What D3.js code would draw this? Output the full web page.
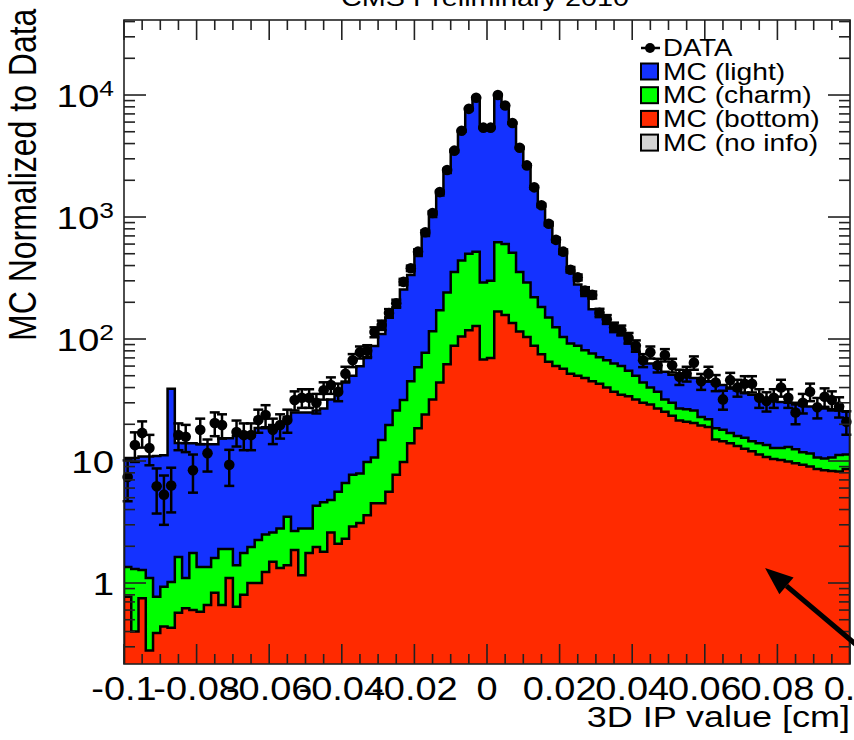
<!DOCTYPE html>
<html><head><meta charset="utf-8">
<script src="https://cdn.jsdelivr.net/npm/d3@7"></script>
<style>body{margin:0;background:#fff} svg{display:block} text{font-family:"Liberation Sans",Arial,Helvetica,sans-serif;fill:#000}</style>
</head><body><svg id="c" width="854" height="740"></svg>
<script>
// ---- data ----
const xMin=-0.1, xMax=0.1, nBins=100;
const xTickValues=[-0.1,-0.08,-0.06,-0.04,-0.02,0,0.02,0.04,0.06,0.08,0.1];
const xTickLabels=["-0.1","-0.08","-0.06","-0.04","-0.02","0","0.02","0.04","0.06","0.08","0.1"];
const yTickValues=[1,10,100,1000,10000];
const yTickBase=["1","10","10","10","10"];
const yTickExp=["","","2","3","4"];
const mcBottom=[0.77,0.40,0.75,0.28,0.39,0.44,0.43,0.57,0.62,0.60,
 0.58,0.66,0.83,0.66,1.1,0.64,0.80,1.0,1.0,1.23,
 1.49,1.33,1.4,1.86,1.16,1.76,1.97,1.8,2.6,2.1,
 2.3,2.9,3.1,3.6,4.5,4.5,5.6,7.7,9.8,14,
 18.6,24,32,44,62,88,105,118,128,68,
 70,168,157,135,115,104,88,75,65,60,
 57,52,50,48,45,43,40,37,35,34,
 32,30,29,27,25.3,23.5,21.5,21,20.5,19.5,
 19,15,14.5,14,13.3,12.6,12,11.3,10.8,10.4,
 10.2,9.9,9.6,9.3,9.0,8.6,8.4,8.3,8.2,8.6];
const mcCharm=[0.58,0.90,0.53,0.82,0.38,0.49,0.59,1.06,0.48,1.16,
 0.77,0.69,0.77,1.24,0.8,0.76,0.96,0.97,1.25,1.27,
 1.11,1.47,2.1,0.81,1.64,1.04,2.33,2.8,2.2,3.5,
 4.3,4.8,4.8,6.2,6.2,10.4,14.1,18.3,21.8,31,
 40,53,84,128,178,267,335,382,392,222,
 230,452,443,375,240,186,132,108,85,65,
 47,40,38,33,31,28,27,26,25,21,
 18,14,11,10,6.7,6.5,5.5,5.5,5.5,3.5,
 3,3.6,3.5,3,2.7,2.9,2.5,2.7,2.7,2.4,
 2.6,3.1,2.9,2.5,2.5,2.1,2.1,2.4,3.0,2.7];
const mcLight=[9.25,9.3,9.6,9.8,10.2,10.2,38,12.4,12.9,12.2,
 12.35,12.35,12.1,13.5,13.5,14.6,14.2,14.0,16.4,16.1,
 17.1,16.9,19.5,22.3,22.2,22.2,21.7,22.4,27.2,32.4,
 37.4,42.3,52,60,77,95,130,154,223,290,
 421,623,884,1328,2060,3045,4560,7000,8980,5110,
 5200,9180,7400,5290,3345,2310,1480,1017,710,515,
 396,268,192,144,99,84,68,55,48,37,
 32,24,23,21,22,21,23,22.5,22,24,
 23,24.4,24,23,22,20.5,20.5,19,18.5,18.7,
 17.7,17,16.5,16.7,16.5,16.8,16.5,15.8,14.8,14.2];
const dataCounts=[7.4,13.5,17,12.8,6.2,5.3,6.3,16.3,15.8,8.4,
 18,11.6,20.5,19.7,9.3,17.3,16.3,16.3,21.7,23.8,
 18,19.7,21.7,31.6,33,33,30,38,42,37,
 52,67,78,80,114,130,163,196,294,380,
 520,750,1080,1600,2430,3500,5100,7700,9500,5400,
 5400,10000,8200,5900,3700,2650,1750,1250,880,650,
 520,370,320,250,230,164,145,125,118,102,
 88,67,78,61,74,61,49,52,64,45,
 52,44,32,46,40,43,43,33,31,33,
 40,33,25,30,37,27.6,33.6,31.6,28,21];
const legendLabels=["DATA","MC (light)","MC (charm)","MC (bottom)","MC (no info)"];
const colors={light:"#1432ff",charm:"#00ff00",bottom:"#ff2a00",noinfo:"#d3d3d3"};

// ---- layout ----
const L=124,R=850,T=20,B=664;
const svg=d3.select("#c");
const x=d3.scaleLinear().domain([xMin,xMax]).range([L,R]);
const y=d3.scaleLog().domain([0.2168,41200]).range([B,T]).clamp(true);
const binW=(xMax-xMin)/nBins;
const rows=d3.range(nBins).map(i=>({lo:xMin+i*binW,hi:xMin+(i+1)*binW,
  bottom:mcBottom[i],charm:mcCharm[i],light:mcLight[i],data:dataCounts[i]}));
const stack=d3.stack().keys(["bottom","charm","light"])(rows);

svg.append("defs").append("clipPath").attr("id","fr").append("rect")
  .attr("x",L).attr("y",T).attr("width",R-L).attr("height",B-T);
const plot=svg.append("g").attr("clip-path","url(#fr)");

function stepPath(layer){
  const p=d3.path();
  p.moveTo(x(xMin),B+5);
  layer.forEach((d,i)=>{p.lineTo(x(rows[i].lo),y(d[1]));p.lineTo(x(rows[i].hi),y(d[1]));});
  p.lineTo(x(xMax),B+5);
  p.closePath();
  return p.toString();
}
stack.slice().reverse().forEach(layer=>{
  plot.append("path").attr("d",stepPath(layer)).attr("fill",colors[layer.key])
    .attr("stroke","#000").attr("stroke-width",2.5).attr("stroke-linejoin","miter");
});

// data points
const pts=svg.append("g");
rows.forEach(r=>{
  const cx=x((r.lo+r.hi)/2), e=Math.sqrt(r.data);
  const y1=y(r.data+e), y2=y(Math.max(r.data-e,0.01));
  pts.append("line").attr("x1",cx).attr("x2",cx).attr("y1",y1).attr("y2",y2).attr("stroke","#000").attr("stroke-width",2.5);
  [y1,y2].forEach(yy=>{ if(yy<B-1) pts.append("line").attr("x1",cx-5).attr("x2",cx+5).attr("y1",yy).attr("y2",yy).attr("stroke","#000").attr("stroke-width",2.5);});
  pts.append("circle").attr("cx",cx).attr("cy",y(r.data)).attr("r",5.3).attr("fill","#000");
});

// frame & ticks
const ax=svg.append("g").attr("stroke","#222").attr("stroke-width",1.6);
ax.append("rect").attr("x",L).attr("y",T).attr("width",R-L).attr("height",B-T).attr("fill","none");
const xMinor=d3.range(-0.1,0.1001,0.005);
xMinor.forEach(v=>{
  const isMaj=xTickValues.some(t=>Math.abs(t-v)<1e-6);
  const len=isMaj?20:10;
  ax.append("line").attr("x1",x(v)).attr("x2",x(v)).attr("y1",B).attr("y2",B-len);
  ax.append("line").attr("x1",x(v)).attr("x2",x(v)).attr("y1",T).attr("y2",T+len);
});
const yMinor=[];
[0.1,1,10,100,1000,10000].forEach(d=>{for(let k=2;k<=9;k++){const v=d*k; if(v>0.2168&&v<41200) yMinor.push(v);}});
yMinor.forEach(v=>{
  ax.append("line").attr("x1",L).attr("x2",L+11).attr("y1",y(v)).attr("y2",y(v));
  ax.append("line").attr("x1",R).attr("x2",R-11).attr("y1",y(v)).attr("y2",y(v));
});
yTickValues.forEach(v=>{
  ax.append("line").attr("x1",L).attr("x2",L+22).attr("y1",y(v)).attr("y2",y(v));
  ax.append("line").attr("x1",R).attr("x2",R-22).attr("y1",y(v)).attr("y2",y(v));
});

// text helper (reference fonts are horizontally stretched)
function txt(px,py,str,size,anchor,sx){
  return svg.append("text").attr("transform",`translate(${px},${py}) scale(${sx||1.2},1)`)
    .attr("font-size",size).attr("text-anchor",anchor).text(str);
}
xTickValues.forEach((v,i)=>txt(x(v),700,xTickLabels[i],33,"middle",1.15));
yTickValues.forEach((v,i)=>{
  const t=svg.append("text").attr("transform",`translate(114,${y(v)+11.5}) scale(1.2,1)`)
    .attr("font-size",32).attr("text-anchor","end");
  t.append("tspan").text(yTickBase[i]);
  if(yTickExp[i]) t.append("tspan").attr("font-size",22).attr("dy",-11).text(yTickExp[i]);
});
txt(850,727,"3D IP value [cm]",30,"end");
txt(485,6,"CMS Preliminary 2010",24,"middle");
svg.append("text").attr("transform","translate(36,341) scale(1.2,1) rotate(-90)")
  .attr("font-size",32).attr("text-anchor","start").text("MC Normalized to Data");

// legend
const lg=svg.append("g");
lg.append("line").attr("x1",641).attr("x2",660).attr("y1",48).attr("y2",48).attr("stroke","#000").attr("stroke-width",2.5);
lg.append("circle").attr("cx",650).attr("cy",48).attr("r",5).attr("fill","#000");
txt(663,56,legendLabels[0],23,"start");
const boxKeys=["light","charm","bottom","noinfo"];
boxKeys.forEach((k,i)=>{
  const cy=71.5+i*23.7;
  lg.append("rect").attr("x",641).attr("y",cy-8).attr("width",17).attr("height",16)
    .attr("fill",colors[k]).attr("stroke","#000").attr("stroke-width",2);
  txt(663,cy+8,legendLabels[i+1],23.5,"start");
});

// arrow annotation
const ar=svg.append("g");
const tip=[x(0.0766),y(1.33)], tail=[x(0.108),y(0.186)];
const ang=Math.atan2(tip[1]-tail[1],tip[0]-tail[0]);
const hl=28, hw=11;
const base=[tip[0]-hl*Math.cos(ang),tip[1]-hl*Math.sin(ang)];
ar.append("line").attr("x1",tail[0]).attr("y1",tail[1]).attr("x2",base[0]).attr("y2",base[1]).attr("stroke","#000").attr("stroke-width",5);
ar.append("path").attr("d",d3.line()([tip,[base[0]+hw*Math.sin(ang),base[1]-hw*Math.cos(ang)],[base[0]-hw*Math.sin(ang),base[1]+hw*Math.cos(ang)]])+"Z").attr("fill","#000");
</script></body></html>
